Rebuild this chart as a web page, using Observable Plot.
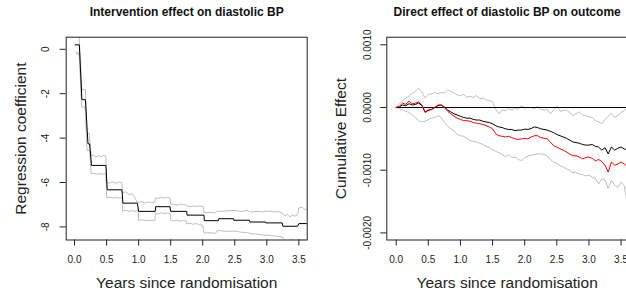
<!DOCTYPE html>
<html><head><meta charset="utf-8">
<script src="https://cdn.jsdelivr.net/npm/d3@7"></script>
<script src="https://cdn.jsdelivr.net/npm/@observablehq/plot@0.6"></script>
<style>
body{margin:0;background:#fff;}
#wrap{position:relative;width:626px;height:297px;overflow:hidden;background:#fff}
#left{position:absolute;left:0;top:0;width:313px;height:297px}
#right{position:absolute;left:313px;top:0;width:330px;height:297px}
#wrap svg{max-width:none !important}
</style></head>
<body><div id="wrap"><div id="left"></div><div id="right"></div></div>
<script>
// ---------- Texts and ticks ----------
const titleL = "Intervention effect on diastolic BP";
const titleR = "Direct effect of diastolic BP on outcome";
const xLabel = "Years since randomisation";
const yLabelL = "Regression coefficient";
const yLabelR = "Cumulative Effect";
const xTicks = [0, 0.5, 1, 1.5, 2, 2.5, 3, 3.5];
const yTicksL = [0, -2, -4, -6, -8];
const yTicksR = [0.001, 0, -0.001, -0.002];
const yTickLabelsR = ["0.0010", "0.0000", "-0.0010", "-0.0020"];

// ---------- Left panel data ----------
const tEstL = [0.01,0.075,0.115,0.17,0.21,0.235,0.265,0.49,0.51,0.74,0.755,0.98,1.0,1.26,1.265,1.49,1.5,1.75,1.755,2.02,2.025,2.245,2.25,2.48,2.485,2.73,2.735,2.98,2.985,3.24,3.25,3.48,3.5,3.65];
const estL  = [0.2,0.2,-2.27,-2.27,-4.26,-4.26,-5.23,-5.23,-6.33,-6.33,-6.93,-6.93,-7.3,-7.3,-7.09,-7.09,-7.3,-7.3,-7.47,-7.47,-7.72,-7.72,-7.63,-7.63,-7.7,-7.7,-7.78,-7.78,-7.82,-7.82,-7.97,-7.97,-7.85,-7.85];

const tUpL = [0.068,0.114,0.17,0.19,0.23,0.26,0.3,0.33,0.37,0.41,0.45,0.49,0.495,0.55,0.6,0.65,0.7,0.74,0.745,0.8,0.85,0.9,0.93,0.98,1.05,1.1,1.15,1.2,1.255,1.26,1.3,1.35,1.4,1.45,1.49,1.5,1.55,1.6,1.65,1.7,1.75,1.76,1.8,1.85,1.9,1.95,2.01,2.02,2.1,2.2,2.23,2.3,2.4,2.5,2.6,2.7,2.75,2.85,2.95,3.05,3.1,3.18,3.24,3.28,3.32,3.36,3.4,3.44,3.48,3.5,3.55,3.6,3.65];
const upL  = [0.8,-1.82,-1.82,-3.8,-3.8,-4.8,-4.78,-4.85,-4.79,-4.84,-4.78,-4.82,-6.0,-6.03,-5.96,-6.04,-5.98,-6.02,-6.48,-6.42,-6.55,-6.5,-6.62,-6.9,-6.86,-6.93,-6.88,-6.91,-6.88,-6.69,-6.72,-6.66,-6.7,-6.67,-6.7,-6.99,-6.97,-7.02,-6.98,-7.0,-7.02,-7.07,-7.09,-7.06,-7.08,-7.06,-7.08,-7.37,-7.35,-7.36,-7.29,-7.3,-7.27,-7.26,-7.3,-7.27,-7.33,-7.3,-7.32,-7.28,-7.33,-7.3,-7.38,-7.5,-7.44,-7.55,-7.46,-7.52,-7.45,-7.14,-7.12,-7.22,-7.23];

const tLoL = [0.02,0.04,0.055,0.075,0.11,0.165,0.195,0.235,0.26,0.3,0.35,0.4,0.45,0.49,0.5,0.55,0.6,0.65,0.7,0.745,0.75,0.8,0.85,0.9,0.95,0.995,1.0,1.05,1.1,1.15,1.2,1.255,1.26,1.3,1.35,1.4,1.45,1.495,1.5,1.55,1.6,1.65,1.7,1.745,1.75,1.8,1.85,1.9,1.95,2.0,2.02,2.1,2.2,2.23,2.3,2.4,2.5,2.6,2.7,2.75,2.85,2.95,3.05,3.15,3.24,3.26,3.32,3.38,3.44,3.5,3.56,3.65];
const loL  = [-0.1,-0.22,-0.15,-0.3,-2.6,-2.6,-4.56,-4.56,-5.6,-5.58,-5.63,-5.6,-5.62,-5.59,-6.69,-6.66,-6.7,-6.67,-6.7,-6.68,-7.29,-7.25,-7.3,-7.27,-7.3,-7.28,-7.71,-7.68,-7.72,-7.69,-7.72,-7.7,-7.38,-7.42,-7.36,-7.4,-7.38,-7.42,-7.71,-7.73,-7.69,-7.74,-7.71,-7.74,-7.86,-7.84,-7.88,-7.85,-7.9,-7.93,-8.28,-8.26,-8.29,-8.16,-8.18,-8.2,-8.19,-8.24,-8.26,-8.3,-8.33,-8.37,-8.38,-8.42,-8.45,-8.57,-8.62,-8.55,-8.63,-8.56,-8.6,-8.55];

// ---------- Right panel data (values in units of 1e-4) ----------
const unitR = 1e-4;
const tR = [0,0.05,0.1,0.15,0.2,0.25,0.3,0.35,0.4,0.45,0.5,0.55,0.6,0.65,0.7,0.75,0.8,0.85,0.9,0.95,1,1.05,1.1,1.15,1.2,1.25,1.3,1.35,1.4,1.45,1.5,1.55,1.6,1.65,1.7,1.75,1.8,1.85,1.9,1.95,2,2.05,2.1,2.15,2.2,2.25,2.3,2.35,2.4,2.45,2.5,2.55,2.6,2.65,2.7,2.75,2.8,2.85,2.9,2.95,3,3.05,3.1,3.15,3.2,3.25,3.3,3.35,3.4,3.45,3.5,3.55,3.6];
const blackR = [0,0.1,0.4,0.3,0.6,0.4,0.5,0.7,0.3,-0.7,-0.4,-0.3,0,0.3,0.4,0.1,-0.4,-0.7,-1.0,-1.2,-1.4,-1.6,-1.7,-1.7,-1.9,-2.0,-2.0,-2.2,-2.3,-2.4,-2.6,-2.9,-3.1,-3.2,-3.4,-3.5,-3.5,-3.7,-3.6,-3.6,-3.45,-3.5,-3.35,-3.1,-3.2,-3.4,-3.5,-3.6,-3.8,-4.0,-4.3,-4.5,-4.7,-4.9,-5.2,-5.5,-5.6,-5.7,-5.9,-6.0,-6.0,-5.9,-6.2,-6.3,-6.8,-6.4,-7.4,-6.3,-6.8,-6.5,-6.3,-6.6,-6.9];
const redR = [0,0.2,0.7,0.5,1.0,0.6,0.7,0.9,0.4,-0.8,-0.5,-0.3,0,0.4,0.4,0,-0.6,-1.0,-1.4,-1.7,-1.9,-2.1,-2.1,-2.2,-2.4,-2.5,-2.6,-2.7,-2.9,-3.1,-3.4,-4.2,-4.5,-4.6,-4.7,-4.6,-4.8,-5.0,-5.1,-5.0,-4.95,-5.0,-4.7,-4.5,-4.5,-4.8,-4.9,-5.0,-5.5,-6.1,-6.3,-6.6,-6.8,-7.1,-7.4,-7.7,-7.7,-7.9,-8.2,-8.0,-7.9,-8.1,-8.5,-8.3,-8.6,-9.2,-10.3,-8.7,-9.2,-9.0,-8.7,-9.0,-9.5];
const upperR = [0,0.6,1.1,1.5,1.8,2.3,2.6,3.1,2.5,1.5,2.1,2.2,2.4,2.2,2.4,2.3,2.8,2.6,2.3,2.0,1.9,2.1,1.6,1.8,1.6,1.9,1.4,1.5,1.2,1.1,0.9,-0.3,-1.0,-0.4,-0.5,-0.2,-0.4,-0.1,-0.3,0.3,-0.1,0,0,-0.2,0.2,-0.3,-0.4,-0.3,-1.0,-0.4,0.2,-0.6,-0.5,-0.4,-0.8,-1.3,-1.0,-0.7,-1.2,-1.3,-1.5,-1.6,-2.1,-2.3,-2.6,-1.9,-1.4,-0.9,-1.6,-1.3,-0.8,-0.5,0];
const lowerR = [0,-0.2,-0.4,-0.6,-0.8,-1.2,-1.6,-2.1,-2.3,-2.2,-1.9,-1.7,-1.6,-1.3,-1.6,-2.4,-3.0,-3.4,-3.7,-4.3,-4.5,-4.6,-4.9,-5.3,-5.4,-5.5,-5.7,-5.9,-6.2,-6.4,-6.7,-7.0,-7.2,-7.5,-7.8,-7.6,-8.0,-7.9,-8.3,-8.45,-8.0,-7.75,-7.6,-7.5,-7.4,-7.4,-7.5,-7.7,-8.3,-8.7,-8.9,-9.3,-9.5,-9.8,-10.0,-10.4,-10.3,-10.6,-10.7,-10.9,-10.8,-11.1,-11.3,-12.2,-11.4,-11.6,-12.9,-11.6,-12.4,-12.7,-11.9,-12.5,-15.6];

const pts = (ts, vs, k = 1) => ts.map((t, i) => ({t, v: vs[i] * k}));
const FONT = "'Liberation Sans', Arial, Helvetica, sans-serif";
const GREY = "#bebebe";
const TXT = "#222";
const T = {textAnchor: "middle", lineAnchor: "middle", fill: TXT};

function commonMarks(yTicks, yTickText, yTickDx, yLabel, yLabelDx, title) {
  return [
    Plot.axisX({ticks: xTicks, tickSize: 6, tickFormat: () => "", label: null, stroke: "#222"}),
    Plot.axisY({ticks: yTicks, tickSize: 6, tickFormat: () => "", label: null, stroke: "#222"}),
    Plot.text(xTicks, {...T, x: d => d, text: d => d.toFixed(1), frameAnchor: "bottom", dy: 19.5, fontSize: 10}),
    Plot.text(yTicks, {...T, y: d => d, text: (d, i) => yTickText[i], frameAnchor: "left", dx: yTickDx, rotate: -90, fontSize: 10}),
    Plot.text([xLabel], {...T, text: d => d, frameAnchor: "bottom", dy: 43.5, fontSize: 15.5}),
    Plot.text([yLabel], {...T, text: d => d, frameAnchor: "left", dx: yLabelDx, rotate: -90, fontSize: 15.5}),
    Plot.text([title], {...T, text: d => d, frameAnchor: "top", dy: -25.5, fontSize: 12, fontWeight: "bold", fill: "#111"})
  ];
}

const left = Plot.plot({
  width: 313, height: 297,
  marginLeft: 65.7, marginRight: 6.3, marginTop: 36.7, marginBottom: 57.5,
  style: {fontFamily: FONT, background: "white", overflow: "visible"},
  x: {domain: [-0.13, 3.63]},
  y: {domain: [-8.59, 0.545]},
  marks: [
    Plot.line(pts(tUpL, upL), {x: "t", y: "v", stroke: GREY, strokeWidth: 1, clip: true}),
    Plot.line(pts(tLoL, loL), {x: "t", y: "v", stroke: GREY, strokeWidth: 1, clip: true}),
    Plot.line(pts(tEstL, estL), {x: "t", y: "v", stroke: "black", strokeWidth: 1, clip: true}),
    Plot.frame({stroke: "#222", strokeWidth: 1}),
    ...commonMarks(yTicksL, yTicksL.map(String), -20.7, yLabelL, -45, titleL)
  ]
});
document.getElementById("left").appendChild(left);

const right = Plot.plot({
  width: 330, height: 297,
  marginLeft: 73.3, marginRight: 16, marginTop: 36.7, marginBottom: 57.5,
  style: {fontFamily: FONT, background: "white", overflow: "visible"},
  x: {domain: [-0.146, 3.6]},
  y: {domain: [-0.002113, 0.001121]},
  marks: [
    Plot.line(pts(tR, upperR, unitR), {x: "t", y: "v", stroke: GREY, strokeWidth: 1, clip: true}),
    Plot.line(pts(tR, lowerR, unitR), {x: "t", y: "v", stroke: GREY, strokeWidth: 1, clip: true}),
    Plot.ruleY([0], {x1: 0, x2: 3.6, stroke: "black", strokeWidth: 1, clip: true}),
    Plot.line(pts(tR, blackR, unitR), {x: "t", y: "v", stroke: "black", strokeWidth: 1, clip: true}),
    Plot.line(pts(tR, redR, unitR), {x: "t", y: "v", stroke: "red", strokeWidth: 1, clip: true}),
    Plot.frame({stroke: "#222", strokeWidth: 1}),
    ...commonMarks(yTicksR, yTickLabelsR, -19.3, yLabelR, -45.8, titleR)
  ]
});
document.getElementById("right").appendChild(right);
</script>
</body></html>
